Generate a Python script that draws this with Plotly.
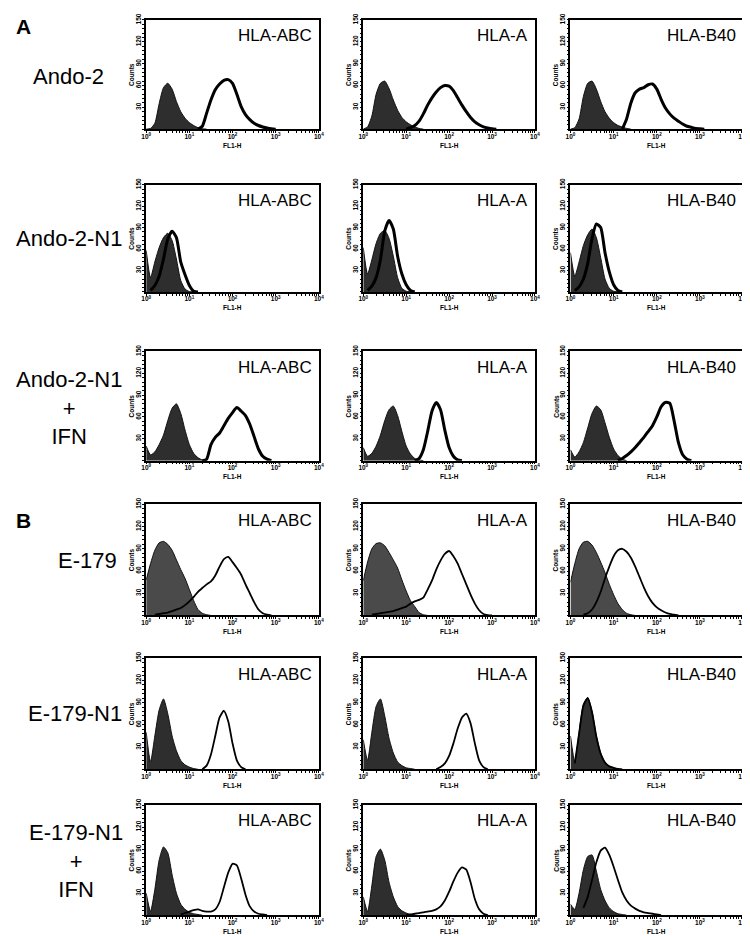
"""
Flow cytometry HLA class I staining panels (Ando-2 / E-179 lines).
Filled histogram = isotype control, open histogram = HLA antibody.
"""

import plotly.graph_objects as go
from plotly.subplots import make_subplots

# log10 fluorescence channel (decades), bins of 0.1 decade
CHANNEL_DECADES = [
    0.0, 0.1, 0.2, 0.3, 0.4, 0.5, 0.6, 0.7, 0.8, 0.9,
    1.0, 1.1, 1.2, 1.3, 1.4, 1.5, 1.6, 1.7, 1.8, 1.9,
    2.0, 2.1, 2.2, 2.3, 2.4, 2.5, 2.6, 2.7, 2.8, 2.9,
    3.0, 3.1, 3.2, 3.3, 3.4, 3.5, 3.6, 3.7, 3.8, 3.9, 4.0,
]

ROW_LABELS = [
    "Ando-2", "Ando-2-N1", "Ando-2-N1<br>+<br>IFN",
    "E-179", "E-179-N1", "E-179-N1<br>+<br>IFN",
]
ANTIBODIES = ["HLA-ABC", "HLA-A", "HLA-B40"]
SECTION_LABELS = ["A", "B"]

X_TICKS = [1, 10, 100, 1000, 10000]
X_TICKTEXT = ["10<sup>0</sup>", "10<sup>1</sup>", "10<sup>2</sup>", "10<sup>3</sup>", "10<sup>4</sup>"]
Y_TICKS = [30, 60, 90, 120, 150]

N = None

# --- Ando-2 ---
ANDO2_ABC_NEG = [0, 1, 8, 35, 57, 63, 55, 38, 24, 15, 9, 5, 2, 0.5, 0]
ANDO2_ABC_POS = [N, N, N, N, N, N, N, N, N, N, N, N, 0, 4, 22, 40, 54, 62, 67, 68,
                 63, 48, 31, 20, 13, 8, 5, 3, 1.5, 0.5, 0]
ANDO2_A_NEG = [0, 3, 18, 48, 63, 66, 56, 40, 26, 16, 10, 6, 3, 1, 0]
ANDO2_A_POS = [N, N, N, N, N, N, N, N, N, N, 0, 2, 5, 11, 21, 33, 43, 51, 57, 60,
               59, 53, 43, 33, 24, 16, 10, 6, 3, 1.5, 0.5, 0]
ANDO2_B40_NEG = [0, 2, 14, 45, 63, 66, 55, 38, 24, 15, 9, 5, 3, 1, 0]
ANDO2_B40_POS = [N, N, N, N, N, N, N, N, N, N, N, N, 0, 14, 36, 50, 55, 57, 61, 62,
                 55, 41, 29, 21, 15, 11, 7, 4, 2.5, 1, 0.5, 0]

# --- Ando-2-N1 ---
ANDO2N1_ABC_NEG = [58, 20, 42, 62, 76, 82, 72, 46, 16, 4, 0.5, 0]
ANDO2N1_ABC_POS = [N, 2, 9, 22, 46, 74, 85, 76, 42, 24, 9, 1, 0]
ANDO2N1_A_NEG = [62, 25, 45, 68, 82, 86, 75, 50, 20, 5, 1, 0]
ANDO2N1_A_POS = [N, 2, 8, 20, 45, 85, 100, 88, 50, 25, 10, 2, 0]
ANDO2N1_B40_NEG = [55, 22, 42, 65, 80, 88, 76, 48, 18, 5, 1, 0]
ANDO2N1_B40_POS = [N, 2, 7, 18, 40, 75, 95, 90, 55, 28, 10, 2, 0]

# --- Ando-2-N1 + IFN ---
ANDO2N1IFN_ABC_NEG = [20, 8, 12, 22, 35, 55, 72, 78, 65, 42, 22, 10, 4, 1, 0]
ANDO2N1IFN_ABC_POS = [N, N, N, N, N, N, N, N, N, N, N, N, N, 0, 2, 22, 32, 38, 48, 58,
                      66, 73, 68, 62, 50, 33, 16, 6, 2, 0]
ANDO2N1IFN_A_NEG = [18, 6, 10, 20, 35, 55, 70, 75, 62, 40, 20, 9, 3, 1, 0]
ANDO2N1IFN_A_POS = [N, N, N, N, N, N, N, N, N, N, N, N, 0, 3, 15, 40, 68, 80, 70, 42,
                    18, 6, 1, 0]
ANDO2N1IFN_B40_NEG = [15, 5, 12, 25, 45, 65, 75, 70, 52, 32, 16, 7, 2, 0]
ANDO2N1IFN_B40_POS = [N, N, N, N, N, N, N, N, N, N, N, 0, 3, 7, 12, 18, 25, 32, 40, 48,
                      60, 74, 80, 79, 55, 25, 8, 2, 0]

# --- E-179 ---
E179_ABC_NEG = [48, 70, 88, 98, 100, 96, 88, 75, 62, 50, 35, 20, 8, 3, 1, 0]
E179_ABC_POS = [N, N, 1, 2, 3, 4, 6, 8, 10, 14, 19, 25, 32, 37, 42, 46, 54, 66, 76, 79,
                72, 64, 55, 42, 30, 18, 8, 3, 1, 0]
E179_A_NEG = [47, 72, 90, 97, 98, 94, 85, 75, 64, 48, 33, 20, 12, 4, 1, 0]
E179_A_POS = [N, N, 1, 2, 3, 4, 5, 6, 8, 10, 12, 16, 19, 21, 24, 35, 47, 62, 74, 83,
              87, 80, 70, 56, 42, 28, 16, 7, 2, 0.5, 0]
E179_B40_NEG = [45, 70, 90, 99, 100, 95, 85, 72, 58, 42, 28, 16, 8, 3, 1, 0]
E179_B40_POS = [N, N, N, 1, 3, 8, 18, 32, 50, 66, 80, 88, 90, 86, 78, 66, 52, 38, 26,
                17, 11, 7, 4, 2, 1, 0]

# --- E-179-N1 ---
E179N1_ABC_NEG = [50, 10, 45, 80, 95, 75, 45, 25, 12, 6, 3, 1, 0]
E179N1_ABC_POS = [N, N, N, N, N, N, N, N, N, N, N, N, N, 0, 5, 20, 45, 70, 79, 65,
                  35, 12, 3, 0]
E179N1_A_NEG = [40, 12, 50, 85, 95, 72, 42, 22, 10, 5, 2, 1, 0]
E179N1_A_POS = [N, N, N, N, N, N, N, N, N, N, N, N, N, N, N, N, N, 0, 3, 8,
                18, 35, 55, 70, 75, 62, 35, 12, 3, 0]
E179N1_B40_NEG = [45, 10, 50, 88, 97, 78, 45, 22, 10, 4, 2, 0.5, 0]
E179N1_B40_POS = [N, 8, 48, 86, 96, 77, 44, 21, 9, 4, 2, 0.5, 0]

# --- E-179-N1 + IFN ---
E179N1IFN_ABC_NEG = [30, 5, 35, 75, 93, 85, 55, 30, 15, 8, 4, 2, 1, 0]
E179N1IFN_ABC_POS = [N, N, N, N, N, N, N, N, 1, 3, 5, 7, 8, 6, 5, 5, 8, 18, 38, 58,
                     70, 68, 50, 28, 12, 5, 2, 1, 0]
E179N1IFN_A_NEG = [25, 5, 40, 80, 90, 75, 45, 25, 12, 6, 3, 1, 0]
E179N1IFN_A_POS = [N, N, N, N, N, N, N, N, N, N, 0, 1, 2, 3, 4, 5, 6, 8, 12, 20,
                   32, 46, 58, 65, 62, 45, 22, 8, 2, 0]
E179N1IFN_B40_NEG = [15, 8, 30, 62, 80, 82, 60, 35, 20, 10, 5, 2, 1, 0]
E179N1IFN_B40_POS = [N, N, N, 10, 25, 48, 72, 88, 92, 82, 66, 48, 31, 20, 13, 9, 6, 4, 3, 2,
                     1, 0]

PANELS = [
    [(ANDO2_ABC_NEG, ANDO2_ABC_POS), (ANDO2_A_NEG, ANDO2_A_POS), (ANDO2_B40_NEG, ANDO2_B40_POS)],
    [(ANDO2N1_ABC_NEG, ANDO2N1_ABC_POS), (ANDO2N1_A_NEG, ANDO2N1_A_POS),
     (ANDO2N1_B40_NEG, ANDO2N1_B40_POS)],
    [(ANDO2N1IFN_ABC_NEG, ANDO2N1IFN_ABC_POS), (ANDO2N1IFN_A_NEG, ANDO2N1IFN_A_POS),
     (ANDO2N1IFN_B40_NEG, ANDO2N1IFN_B40_POS)],
    [(E179_ABC_NEG, E179_ABC_POS), (E179_A_NEG, E179_A_POS), (E179_B40_NEG, E179_B40_POS)],
    [(E179N1_ABC_NEG, E179N1_ABC_POS), (E179N1_A_NEG, E179N1_A_POS),
     (E179N1_B40_NEG, E179N1_B40_POS)],
    [(E179N1IFN_ABC_NEG, E179N1IFN_ABC_POS), (E179N1IFN_A_NEG, E179N1IFN_A_POS),
     (E179N1IFN_B40_NEG, E179N1IFN_B40_POS)],
]

# layout in pixels
W, H = 750, 936
COL_PX = [(135, 310), (355, 529), (565, 740)]
ROW_PX = [(5, 115), (171, 279), (339, 449), (493, 605), (648, 760), (796, 907)]
ROW_LABEL_XY = [(56, 62), (57, 225), (57, 396), (75, 550), (63, 704), (64, 852)]
SECTION_Y = [12, 509]

FONT = "Arial, Liberation Sans, sans-serif"
TINY = dict(family=FONT, size=6.5, color="black", weight="bold")

fig = make_subplots(rows=6, cols=3)

minor_x = [m * 10 ** d for d in range(4) for m in range(2, 10)]

for r, row in enumerate(PANELS):
    section_b = r >= 3
    fill_col = "#4a4a4a" if r == 3 else "#2e2e2e"
    pos_width = 1.8 if section_b else 3.0
    for c, (neg, pos) in enumerate(row):
        xs_neg = [10 ** v for v in CHANNEL_DECADES[:len(neg)]]
        xs_pos = [10 ** v for v in CHANNEL_DECADES[:len(pos)]]
        fig.add_trace(
            go.Scatter(
                x=xs_neg, y=neg, mode="lines", fill="tozeroy",
                fillcolor=fill_col, line=dict(color="#111111", width=1, shape="spline", smoothing=0.6),
                showlegend=False, hoverinfo="skip",
            ),
            row=r + 1, col=c + 1,
        )
        fig.add_trace(
            go.Scatter(
                x=xs_pos, y=pos, mode="lines",
                line=dict(color="black", width=pos_width, shape="spline", smoothing=0.6),
                showlegend=False, hoverinfo="skip",
            ),
            row=r + 1, col=c + 1,
        )

        n = r * 3 + c + 1
        sfx = "" if n == 1 else str(n)
        (x0, x1), (y0, y1) = COL_PX[c], ROW_PX[r]
        pw, ph = x1 - x0, y1 - y0
        fig.layout["xaxis" + sfx].domain = [x0 / W, x1 / W]
        fig.layout["yaxis" + sfx].domain = [1 - y1 / H, 1 - y0 / H]

        fig.add_annotation(
            text=ANTIBODIES[c], xref=f"x{sfx} domain", yref=f"y{sfx} domain",
            x=1 - 5 / pw, y=1 - 16 / ph, xanchor="right", yanchor="middle",
            showarrow=False, font=dict(family=FONT, size=17, color="black"),
        )
        # axis titles as annotations so they sit tight against the tick labels
        fig.add_annotation(
            text="FL1-H", xref=f"x{sfx} domain", yref=f"y{sfx} domain",
            x=0.5, y=-16 / ph, xanchor="center", yanchor="middle",
            showarrow=False, font=TINY,
        )
        fig.add_annotation(
            text="Counts", xref=f"x{sfx} domain", yref=f"y{sfx} domain",
            x=-15 / pw, y=0.5, xanchor="center", yanchor="middle", textangle=-90,
            showarrow=False, font=TINY,
        )

fig.update_xaxes(
    type="log", range=[0, 4], tickvals=X_TICKS, ticktext=X_TICKTEXT,
    ticks="outside", ticklen=2, tickwidth=1, tickcolor="black",
    minor=dict(tickvals=minor_x, ticks="outside", ticklen=2, tickwidth=1, tickcolor="black"),
    showline=True, linecolor="black", linewidth=1.5, mirror=True,
    showgrid=False, zeroline=False,
    tickfont=TINY, ticklabelstandoff=-2,
)
fig.update_yaxes(
    range=[0, 150], tickvals=Y_TICKS, tickangle=-90,
    ticks="outside", ticklen=2, tickwidth=1, tickcolor="black",
    minor=dict(dtick=6, ticks="outside", ticklen=2, tickwidth=1, tickcolor="black"),
    showline=True, linecolor="black", linewidth=1.5, mirror=True,
    showgrid=False, zeroline=False,
    tickfont=TINY, ticklabelstandoff=-1,
)

for label, (xpx, ypx) in zip(ROW_LABELS, ROW_LABEL_XY):
    fig.add_annotation(
        text=label, xref="paper", yref="paper", x=xpx / W, y=1 - ypx / H,
        xanchor="center", yanchor="middle", showarrow=False, align="center",
        font=dict(family=FONT, size=22, color="black"),
    )

for label, ypx in zip(SECTION_LABELS, SECTION_Y):
    fig.add_annotation(
        text=f"<b>{label}</b>", xref="paper", yref="paper", x=1 / W, y=1 - ypx / H,
        xanchor="left", yanchor="middle", showarrow=False,
        font=dict(family=FONT, size=21, color="black"),
    )

fig.update_layout(
    width=W, height=H, autosize=False,
    margin=dict(l=0, r=0, t=0, b=0),
    paper_bgcolor="white", plot_bgcolor="white",
    showlegend=False,
)

fig.write_html("out.html")
